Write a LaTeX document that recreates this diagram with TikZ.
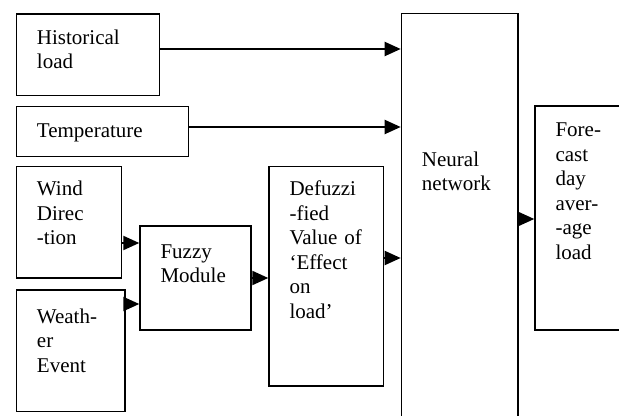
\documentclass[tikz,border=0pt]{standalone}
\usepackage{fontspec}
\setmainfont{Liberation Serif}
\usetikzlibrary{arrows.meta}
\begin{document}
\begin{tikzpicture}[x=0.5pt, y=-0.5pt, >={Triangle[length=8pt, width=7pt]}]
    \tikzstyle{block}=[draw, line width=0.75pt, anchor=north west, inner xsep=10.25pt, inner ysep=0pt, align=left, font=\fontsize{10.5}{12.25}\selectfont]
    \tikzstyle{flow}=[->, line width=1pt]
    \clip (0,0) rectangle (619,416);

    % Blocchi
    \node[block, text width=51pt, text height=15pt, text depth=25.85pt] (hist) at (15.7,13.3) {Historical\\load};
    \node[block, text width=65.5pt, text height=15.35pt, text depth=9.65pt] (temp) at (15.7,106) {Temperature};
    \node[block, text width=32pt, text height=14.65pt, text depth=41.15pt] (wind) at (15.7,165.7) {Wind\\Direc\\-tion};
    \node[block, text width=33.8pt, text height=16.5pt, text depth=44.2pt] (weather) at (15.7,289.3) {Weath-\\er\\Event};
    \node[block, text width=34.85pt, text height=16pt, text depth=35.85pt] (fuzzy) at (139.3,225.3) {Fuzzy\\Module};
    \node[block, text width=36.7pt, text height=14.65pt, text depth=95pt] (defuzz) at (268.3,165.7) {Defuzzi\\-fied\\Value~of\\`Effect\\on\\load'};
    \node[block, text width=37.65pt, text height=76.35pt, text depth=133.65pt] (nn) at (400.7,13) {Neural\\network};
    \node[block, text width=29.5pt, text height=15.35pt, text depth=96.65pt] (fc) at (534.3,105.3) {Fore-\\cast\\day\\aver-\\-age\\load};

    % Frecce
    \draw[flow] (hist.east |- 0,49) -- (nn.west |- 0,49);
    \draw[flow] (temp.east |- 0,127) -- (nn.west |- 0,127);
    \draw[flow] (wind.east |- 0,243) -- (fuzzy.west |- 0,243);
    \draw[flow] (weather.east |- 0,304) -- (fuzzy.west |- 0,304);
    \draw[flow] (fuzzy.east |- 0,278) -- (defuzz.west |- 0,278);
    \draw[flow] (defuzz.east |- 0,258) -- (nn.west |- 0,258);
    \draw[flow] (nn.east |- 0,219) -- (fc.west |- 0,219);
\end{tikzpicture}
\end{document}
